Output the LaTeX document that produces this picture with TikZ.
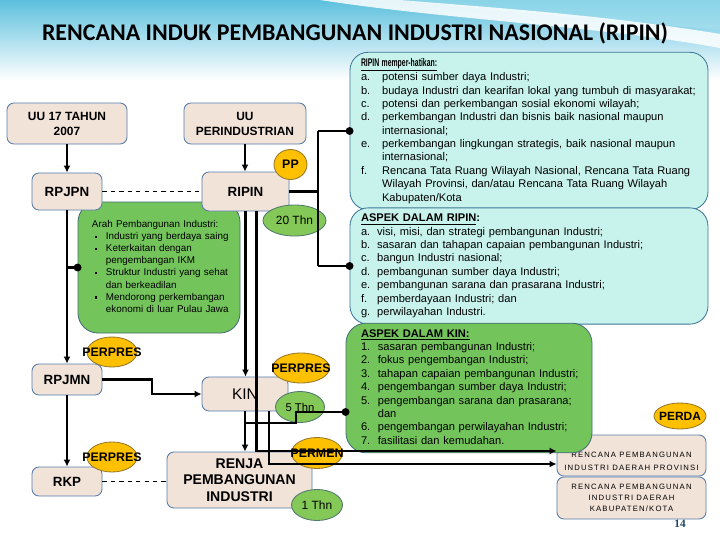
\documentclass[tikz,border=0pt]{standalone}
\usepackage{fontspec}
\usepackage{graphicx}
\setmainfont{Liberation Sans}
\newfontfamily\titlefont{Carlito}
\newfontfamily\widefont[LetterSpace=15]{Liberation Sans}
\newfontfamily\numfont{Liberation Serif}
\usetikzlibrary{arrows.meta,shapes.geometric}
\definecolor{skytop}{RGB}{92,192,222}
\definecolor{skylight}{RGB}{170,226,240}
\definecolor{boxfill}{RGB}{242,227,217}
\definecolor{boxline}{RGB}{84,124,170}
\definecolor{cyanfill}{RGB}{200,243,237}
\definecolor{cyanline}{RGB}{62,118,150}
\definecolor{leafgreen}{RGB}{116,196,92}
\definecolor{leafline}{RGB}{70,110,120}
\definecolor{tagorange}{RGB}{255,192,0}
\definecolor{tagline}{RGB}{150,120,40}
\definecolor{spangreen}{RGB}{132,200,88}
\definecolor{spanline}{RGB}{80,120,110}
\definecolor{pagenum}{RGB}{30,70,100}
\newdimen\px \px=0.25mm
\newcommand{\sqbul}{\rule[0.3ex]{1.6pt}{1.6pt}}

\begin{document}
\begin{tikzpicture}[x=0.25mm,y=-0.25mm,
  pbox/.style={draw=boxline,fill=boxfill,rounded corners=7\px,line width=0.6pt,align=center,inner sep=0pt,font=\bfseries\fontsize{9.5}{11}\selectfont},
  infobox/.style={draw=cyanline,fill=cyanfill,rounded corners=18\px,line width=0.6pt,align=left},
  leafbox/.style={draw=leafline,fill=leafgreen,rounded corners=20\px,line width=0.6pt,align=left},
  tag/.style={ellipse,draw=tagline,fill=tagorange,inner sep=0pt,line width=0.6pt,font=\bfseries\fontsize{8.8}{10}\selectfont},
  period/.style={ellipse,draw=spanline,fill=spangreen,inner sep=0pt,line width=0.6pt,font=\fontsize{8.5}{10}\selectfont},
  wire/.style={line width=1.5pt},
  arrowed/.style={-{Latex[length=5pt,width=5pt]}},
  dotend/.style={-{Circle[length=5.5pt]},shorten >=-2.75pt},
  listfont/.style={font=\fontsize{7.9}{9.5}\selectfont}]
  \fill[white] (0,0) rectangle (720,540);
  \shade[top color=skytop,bottom color=white] (0,0) rectangle (720,80);
  \fill[skylight,opacity=0.6] (400,0) .. controls (520,14) and (640,22) .. (720,30) -- (720,0) -- cycle;
  \fill[white,opacity=0.85] (320,0) .. controls (450,20) and (600,26) .. (720,48) -- (720,34) .. controls (600,14) and (470,6) .. (400,0) -- cycle;
  \node[font=\titlefont\bfseries\fontsize{17}{20}\selectfont] (title) at (355,33) {RENCANA INDUK PEMBANGUNAN INDUSTRI NASIONAL (RIPIN)};

  \node[leafbox,text width=134\px,inner xsep=14\px,minimum height=131\px,font=\fontsize{7}{8.6}\selectfont] (arah) at (159,267.5) {%
    \begin{tabular}{@{}p{14\px}@{}l@{}}
    \multicolumn{2}{@{}l@{}}{Arah Pembangunan Industri:}\\
    \hspace{3\px}\sqbul & Industri yang berdaya saing\\
    \hspace{3\px}\sqbul & Keterkaitan dengan\\
     & pengembangan IKM\\
    \hspace{3\px}\sqbul & Struktur Industri yang sehat\\
     & dan berkeadilan\\
    \hspace{3\px}\sqbul & Mendorong perkembangan\\
     & ekonomi di luar Pulau Jawa
    \end{tabular}};

  \node[pbox,minimum width=120\px,minimum height=41\px,font=\bfseries\fontsize{8.5}{10.7}\selectfont] (uu17) at (67,123.5) {UU 17 TAHUN\\2007};
  \node[pbox,minimum width=122\px,minimum height=41\px,font=\bfseries\fontsize{8.5}{10.7}\selectfont] (uuind) at (245,123.5) {UU\\PERINDUSTRIAN};
  \node[pbox,minimum width=70\px,minimum height=37\px] (rpjpn) at (67,191.5) {RPJPN};
  \node[pbox,minimum width=87\px,minimum height=39\px] (ripin) at (245.5,191.5) {RIPIN};
  \node[pbox,minimum width=70\px,minimum height=31\px] (rpjmn) at (67,379.5) {RPJMN};
  \node[pbox,minimum width=70\px,minimum height=29\px] (rkp) at (67,481.5) {RKP};
  \node[pbox,minimum width=86\px,minimum height=34\px,font=\fontsize{11}{13}\selectfont] (kin) at (245,394) {KIN};
  \node[pbox,minimum width=145\px,minimum height=56\px,font=\bfseries\fontsize{10}{11.7}\selectfont] (renja) at (239.5,480) {RENJA\\PEMBANGUNAN\\INDUSTRI};
  \node[pbox,minimum width=149\px,minimum height=41\px,font=\widefont\fontsize{5.5}{9}\selectfont] (prov) at (631.5,455.5) {\raisebox{-8\px}[0pt][0pt]{\begin{tabular}{@{}c@{}}RENCANA PEMBANGUNAN\\INDUSTRI DAERAH PROVINSI\end{tabular}}};
  \node[pbox,minimum width=149\px,minimum height=42\px,font=\widefont\fontsize{5.5}{8}\selectfont] (kab) at (631.5,498) {RENCANA PEMBANGUNAN\\INDUSTRI DAERAH\\KABUPATEN/KOTA};

  \node[infobox,text width=336\px,inner xsep=11\px,minimum height=152\px,listfont] (memper) at (529,131) {%
    \begin{tabular}{@{}p{15pt}@{}l@{}}
    \multicolumn{2}{@{}l@{}}{\bfseries\scalebox{0.62}[1]{\underline{RIPIN memper-hatikan:}}}\\
    a. & potensi sumber daya Industri;\\
    b. & budaya Industri dan kearifan lokal yang tumbuh di masyarakat;\\
    c. & potensi dan perkembangan sosial ekonomi wilayah;\\
    d. & perkembangan Industri dan bisnis baik nasional maupun\\
     & internasional;\\
    e. & perkembangan lingkungan strategis, baik nasional maupun\\
     & internasional;\\
    f. & Rencana Tata Ruang Wilayah Nasional, Rencana Tata Ruang\\
     & Wilayah Provinsi, dan/atau Rencana Tata Ruang Wilayah\\
     & Kabupaten/Kota
    \end{tabular}};
  \node[infobox,text width=336\px,inner xsep=11\px,minimum height=112\px,listfont] (aspripin) at (529,266) {%
    \begin{tabular}{@{}p{11.5pt}@{}l@{}}
    \multicolumn{2}{@{}l@{}}{\bfseries\underline{ASPEK DALAM RIPIN}:}\\
    a. & visi, misi, dan strategi pembangunan Industri;\\
    b. & sasaran dan tahapan capaian pembangunan Industri;\\
    c. & bangun Industri nasional;\\
    d. & pembangunan sumber daya Industri;\\
    e. & pembangunan sarana dan prasarana Industri;\\
    f. & pemberdayaan Industri; dan\\
    g. & perwilayahan Industri.
    \end{tabular}};
  \node[leafbox,text width=216\px,inner xsep=15\px,minimum height=122\px,listfont] (aspkin) at (469,388) {%
    \begin{tabular}{@{}p{12pt}@{}l@{}}
    \multicolumn{2}{@{}l@{}}{\bfseries\underline{ASPEK DALAM KIN:}}\\
    1. & sasaran pembangunan Industri;\\
    2. & fokus pengembangan Industri;\\
    3. & tahapan capaian pembangunan Industri;\\
    4. & pengembangan sumber daya Industri;\\
    5. & pengembangan sarana dan prasarana;\\
     & dan\\
    6. & pengembangan perwilayahan Industri;\\
    7. & fasilitasi dan kemudahan.
    \end{tabular}};

  \node[tag,minimum width=33\px,minimum height=30\px] (pp) at (290.5,164.5) {\makebox[0pt]{PP}};
  \node[period,minimum width=63\px,minimum height=31\px] (thn20) at (294.5,220.5) {\makebox[0pt]{20 Thn}};
  \node[tag,minimum width=50\px,minimum height=30\px] (prjmn) at (112,352) {\makebox[0pt]{PERPRES}};
  \node[tag,minimum width=50\px,minimum height=30\px] (prkp) at (112,457) {\makebox[0pt]{PERPRES}};
  \node[tag,minimum width=57\px,minimum height=30\px] (prkin) at (301,368) {\makebox[0pt]{PERPRES}};
  \node[period,minimum width=49\px,minimum height=31\px,font=\fontsize{8}{10}\selectfont] (thn5) at (300,407) {\makebox[0pt]{5 Thn}};
  \node[tag,minimum width=51\px,minimum height=31\px] (permen) at (317,453) {\makebox[0pt]{PERMEN}};
  \node[period,minimum width=51\px,minimum height=31\px] (thn1) at (317,505) {\makebox[0pt]{1 Thn}};
  \node[tag,minimum width=52\px,minimum height=26\px,font=\bfseries\fontsize{8.5}{10}\selectfont] (perda) at (680,416) {\makebox[0pt]{PERDA}};
  \node[font=\numfont\bfseries\fontsize{8}{9}\selectfont,text=pagenum] (page) at (680,524) {14};

  \coordinate (bus) at (318,190);
  \draw[wire,arrowed] (uu17) -- (rpjpn);
  \draw[wire,arrowed] (uuind.south) -- (uuind.south |- ripin.north);
  \draw[dashed,line width=0.7pt] (rpjpn.east) -- (rpjpn.east -| ripin.west);
  \draw[wire] (ripin.east) -- (ripin.east -| bus);
  \draw[wire] (bus |- memper.west) -- (bus |- aspripin.west);
  \draw[wire,dotend] (bus |- memper.west) -- (memper.west);
  \draw[wire,dotend] (bus |- aspripin.west) -- (aspripin.west);
  \draw[wire,arrowed] (rpjpn) -- (rpjmn);
  \draw[wire,dotend] (rpjpn.south |- arah.west) -- (arah.west);
  \draw[wire,arrowed] (ripin.south) -- (ripin.south |- kin.north);
  \draw[wire,arrowed] ([xshift=11\px]ripin.south) |- ([yshift=4.5\px]prov.west);
  \draw[wire,arrowed] ([xshift=24\px]kin.south) |- ([yshift=-8.5\px]prov.west);
  \draw[wire,arrowed] (kin.south) -- (kin.south |- renja.north);
  \draw[wire,dotend] ([yshift=-12\px]kin.south) -- ++(51,0) |- ([yshift=-24\px]aspkin.west);
  \draw[wire,arrowed] (rpjmn.east) -- ++(50,0) |- (kin.west);
  \draw[wire,arrowed] (rpjmn) -- (rkp);
  \draw[dashed,line width=0.7pt] (rkp.east) -- (rkp.east -| renja.west);
\end{tikzpicture}
\end{document}
